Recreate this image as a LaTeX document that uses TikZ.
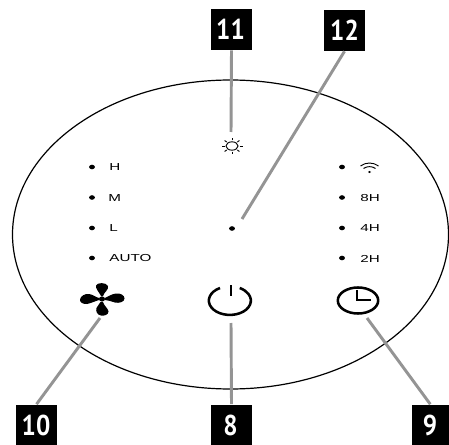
\documentclass[tikz,border=0pt]{standalone}
\usepackage{fontspec}
\setmainfont{Liberation Sans}
\newfontfamily\tagfont{PT Sans}
\tikzset{
 tagbox/.style={fill=black,inner sep=0pt,minimum width=30.75pt,minimum height=30.75pt},
 tagtext/.style={text=white,inner sep=0pt,xscale=0.88,transform shape,font=\tagfont\bfseries\fontsize{21.5}{22}\selectfont},
 leader/.style={draw=black!42,line width=2.2pt},
 dotmark/.style={fill=black},
 lbl/.style={anchor=west,inner sep=0pt,font=\fontsize{7.6}{8}\selectfont,xscale=1.5,transform shape},
 icon/.style={draw=black,line width=1.9pt},
 thinicon/.style={draw=black,line width=0.7pt}
}
\begin{document}
\begin{tikzpicture}[x=0.75pt,y=-0.75pt]
\useasboundingbox (0,0) rectangle (449,445);
\draw[black,line width=0.9pt] (230.5,234.5) ellipse [x radius=218, y radius=154.5];
% tags
\node[tagbox] (t11) at (231.5,29.5) {};
\node[tagtext] (n11) at (230.5,29.5) {11};
\node[tagbox] (t12) at (344.5,30.5) {};
\node[tagtext] (n12) at (344.5,30.5) {12};
\node[tagbox] (t10) at (36.5,425) {};
\node[tagtext] (n10) at (36,425) {10};
\node[tagbox] (t8) at (231.5,425) {};
\node[tagtext] (n8) at (230.5,425) {8};
\node[tagbox,minimum width=28pt] (t9) at (430.3,425) {};
\node[tagtext] (n9) at (430,425) {9};
% anchors
\coordinate (c11) at (231,132);
\coordinate (c12) at (242,219);
\coordinate (c10) at (100,318);
\coordinate (c8) at (231,323);
\coordinate (c9) at (367,318);
\draw[leader] (t11.south) -- (c11);
\draw[leader] (t12.south) -- (c12);
\draw[leader] (t10.north) -- (c10);
\draw[leader] (t8.north) -- (c8);
\draw[leader] (t9.north) -- (c9);
% dots
\foreach \x/\y in {92/167,92/197.5,92/228,92/258,342/167,342/197.5,342/228,342/258,232/228.5}
  \fill[dotmark] (\x,\y) ellipse [x radius=2.9, y radius=2.3];
% labels
\node[lbl] (h) at (109,167.5) {H};
\node[lbl] (m) at (108,198) {M};
\node[lbl] (l) at (109,228.5) {L};
\node[lbl] (auto) at (109,258.5) {AUTO};
\node[lbl] (e) at (360,198) {8H};
\node[lbl] (f) at (360,228.5) {4H};
\node[lbl] (g) at (360,258.5) {2H};
% sun
\draw[thinicon] (232,146) ellipse [x radius=6, y radius=4.2];
\foreach \a in {0,45,...,315}
  \draw[thinicon] ({232+7.5*cos(\a)},{146+5.6*sin(\a)}) -- ({232+10.5*cos(\a)},{146+7.8*sin(\a)});
% wifi
\draw[thinicon] (360.5,166) .. controls (366,162) and (373,162) .. (378.5,166);
\draw[thinicon] (363.5,168.5) .. controls (367,166) and (372,166) .. (375.5,168.5);
\fill (369.5,172) ellipse [x radius=1.5, y radius=1.1];
% fan
\fill (102,299) ellipse [x radius=3, y radius=2.6];
\fill (101,296) .. controls (99,292) and (95,288) .. (96,285.5) .. controls (97,282.5) and (106,282) .. (108,286) .. controls (109,290) and (104,292) .. (103,296) -- cycle;
\fill (105,298) .. controls (109,296) and (112,294) .. (116,293.5) .. controls (120,293) and (124.5,295) .. (124.5,298.5) .. controls (124.5,302) and (119,303.5) .. (115,302.5) .. controls (111,301.5) and (108,300) .. (105,300) -- cycle;
\fill (103,302) .. controls (104,306) and (108,308) .. (108.5,311.5) .. controls (108.5,315) and (104,316) .. (101,315.5) .. controls (97,315) and (95.5,311) .. (96.5,308) .. controls (97.5,305) and (100,304) .. (100.5,302) -- cycle;
\fill (99,300) .. controls (95,301) and (92,303) .. (87,304) .. controls (83,304.5) and (79.5,302) .. (80,299.5) .. controls (80.5,296) and (85,293.5) .. (89,294) .. controls (93,294.5) and (96,297.5) .. (99,298) -- cycle;
% power
\draw[icon] (220,288) arc [start angle=-118, end angle=-422, x radius=21, y radius=14.3];
\draw[icon,line width=2.1pt] (231,285) -- (231,296);
% clock
\draw[icon] (358,300.5) ellipse [x radius=20.2, y radius=13];
\draw[icon,line width=1.7pt] (357,290) -- (357,300) -- (371,300);
\end{tikzpicture}
\end{document}
